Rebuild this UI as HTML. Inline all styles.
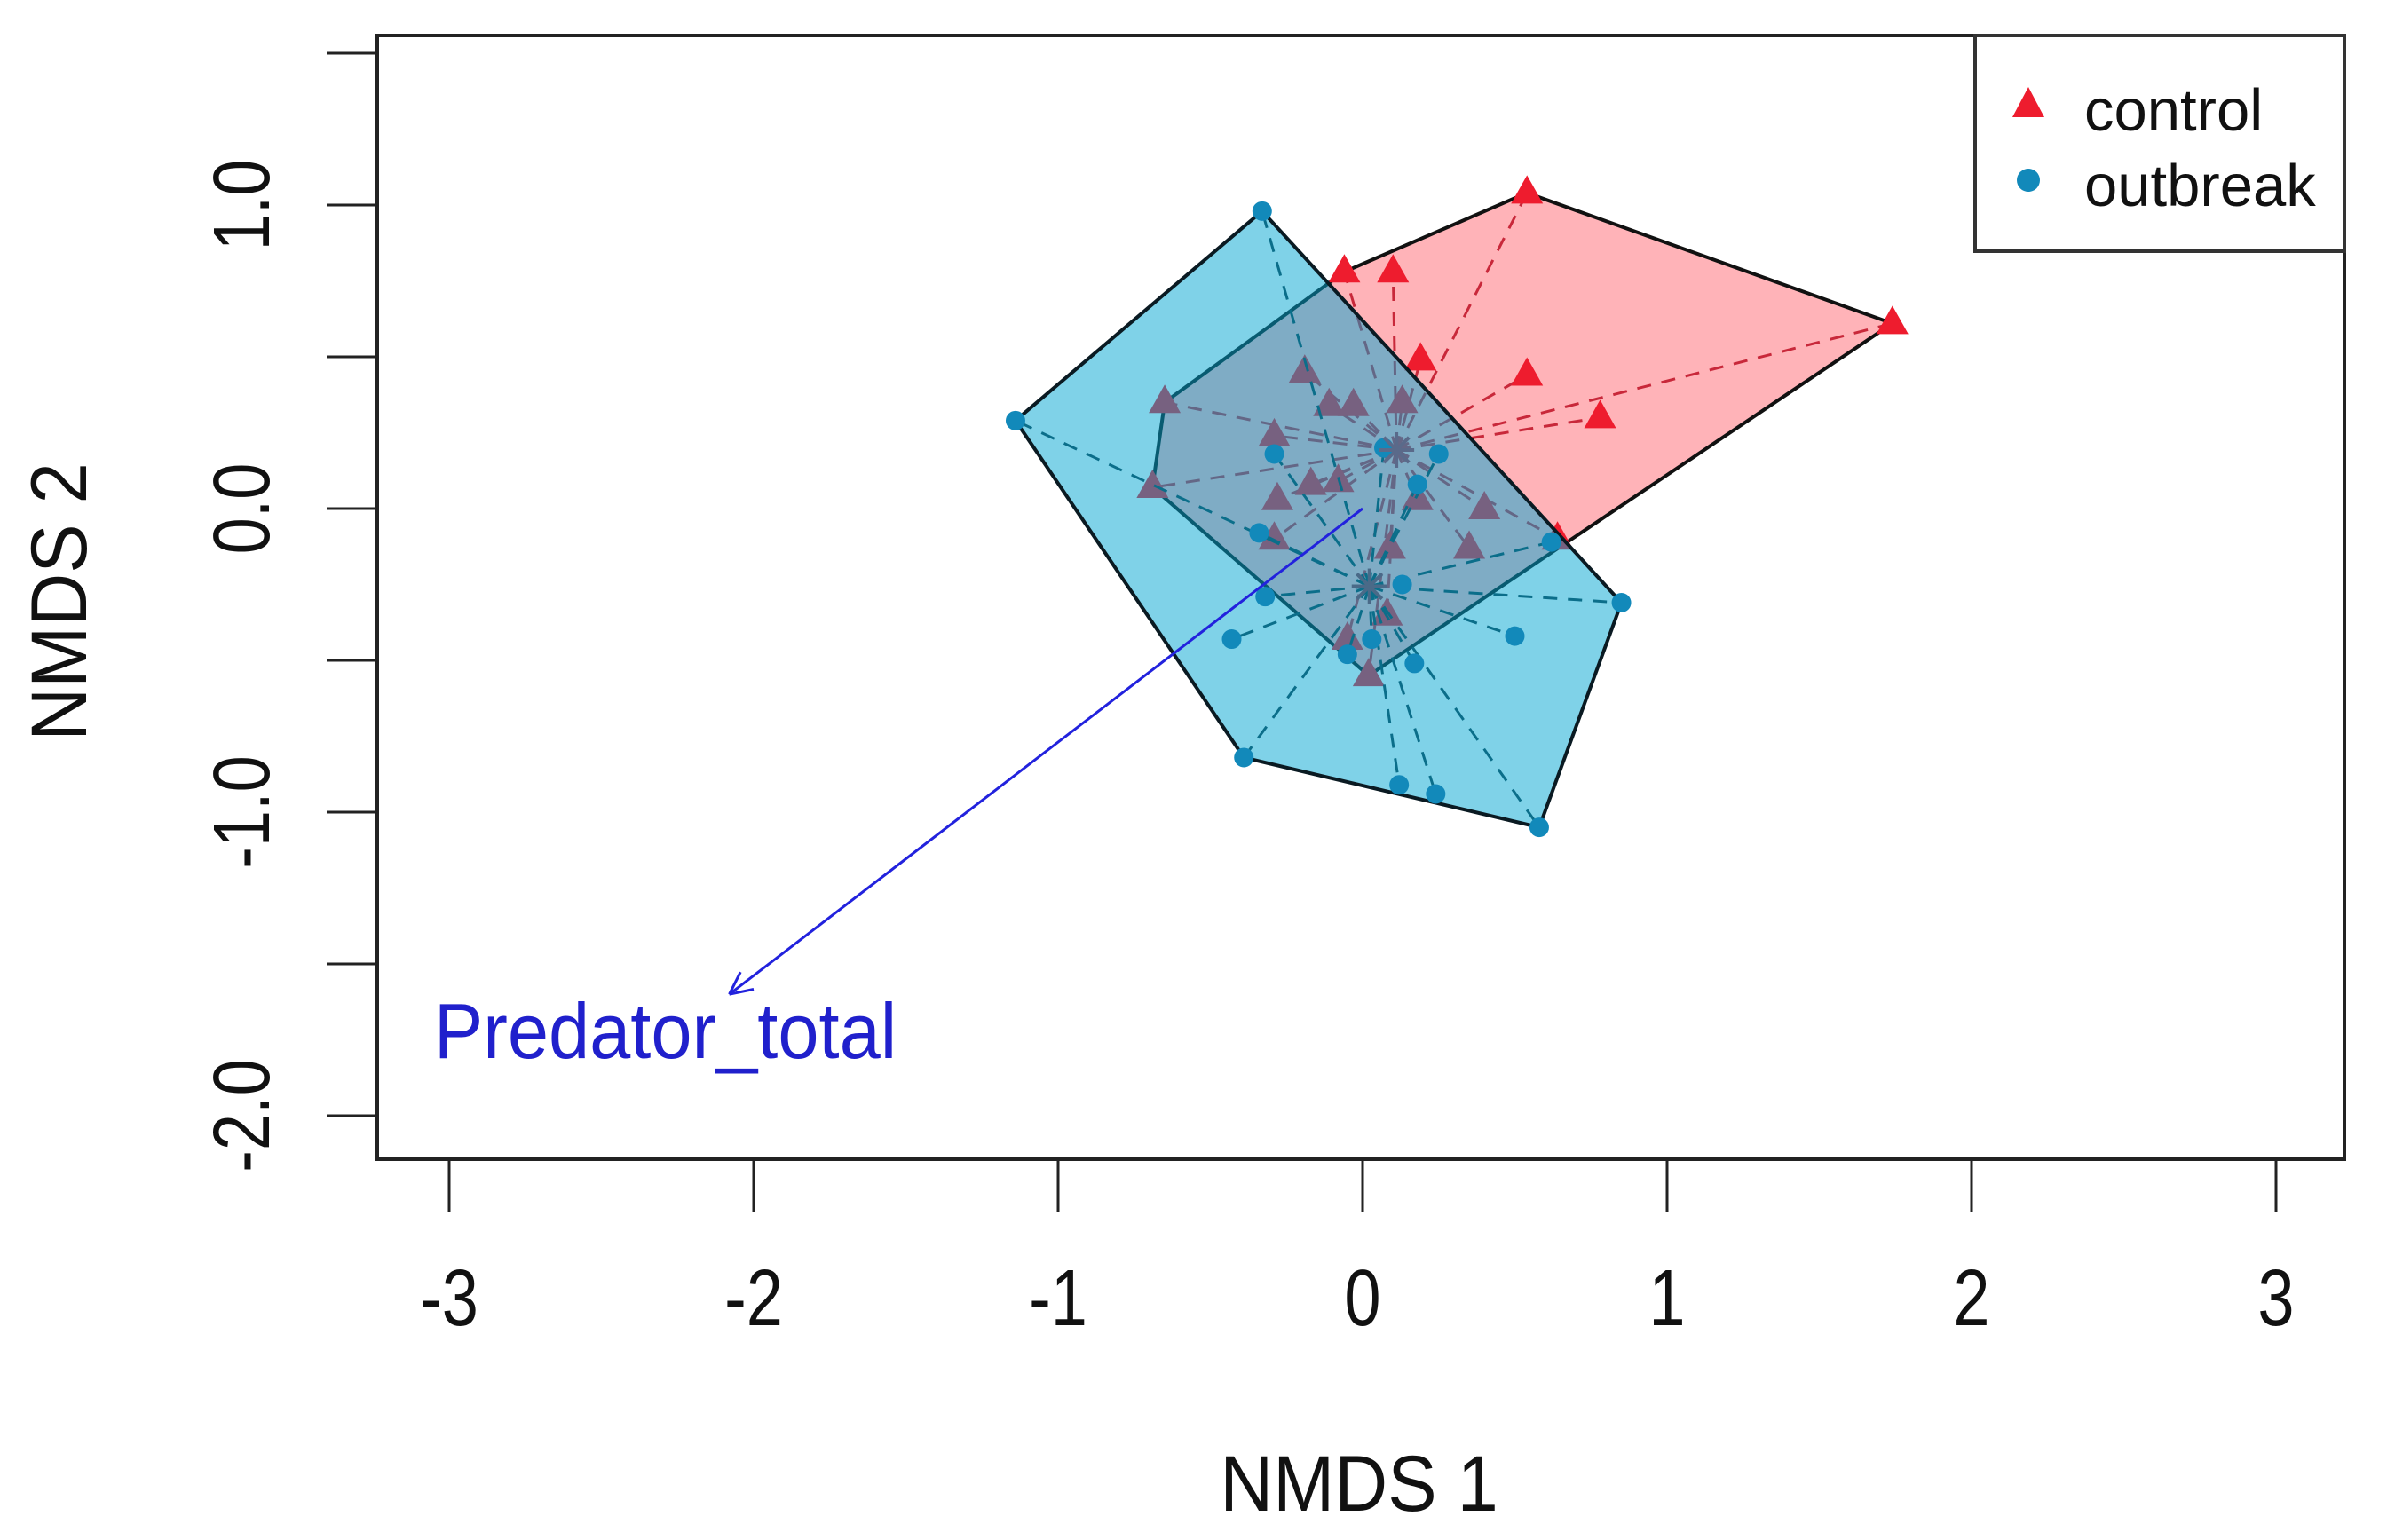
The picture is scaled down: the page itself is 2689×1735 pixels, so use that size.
<!DOCTYPE html>
<html><head><meta charset="utf-8"><style>
html,body{margin:0;padding:0;background:#fff;}
svg{display:block;font-family:"Liberation Sans",Arial,sans-serif;}
</style></head><body>
<svg id="chart" width="2689" height="1735" viewBox="0 0 2689 1735" xmlns="http://www.w3.org/2000/svg">
<g id="plot"></g>
</svg>
<script>
const controlX = [-0.06,0.10,0.54,1.74,0.54,0.78,0.19,-0.19,-0.11,-0.03,0.13,-0.65,-0.69,-0.29,-0.17,-0.08,-0.28,0.18,0.40,0.35,0.09,0.08,-0.05,0.02,-0.29,0.64];
const controlY = [0.78,0.78,1.04,0.61,0.44,0.30,0.49,0.45,0.34,0.34,0.35,0.35,0.07,0.24,0.08,0.09,0.03,0.03,0.00,-0.13,-0.13,-0.35,-0.43,-0.55,-0.10,-0.10];
const outbreakX = [-0.33,-1.14,-0.39,0.58,0.85,-0.43,-0.32,-0.05,0.17,0.50,0.12,0.24,-0.29,0.25,-0.34,0.18,0.03,0.07,0.13,0.62];
const outbreakY = [0.98,0.29,-0.82,-1.05,-0.31,-0.43,-0.29,-0.48,-0.51,-0.42,-0.91,-0.94,0.18,0.18,-0.08,0.08,-0.43,0.20,-0.25,-0.11];
const xTicks = [-3,-2,-1,0,1,2,3];
const xTickLabels = ["-3","-2","-1","0","1","2","3"];
const yTicks = [1.5,1.0,0.5,0.0,-0.5,-1.0,-1.5,-2.0];
const yTickLabels = {"1":"1.0","0":"0.0","-1":"-1.0","-2":"-2.0"};
const arrowX = [-2.08];
const arrowY = [-1.60];
const arrowLabel = "Predator_total";
const arrowLabelPos = [-3.05,-1.81];

const NS="http://www.w3.org/2000/svg";
const X = v => 1535 + v*343;
const Y = v => 573 - v*342;
const plot = document.getElementById('plot');
function mk(tag, attrs, parent){const e=document.createElementNS(NS,tag);for(const k in attrs)e.setAttribute(k,attrs[k]);(parent||plot).appendChild(e);return e;}

function hull(xs,ys){
  const p=xs.map((x,i)=>[x,ys[i]]).sort((a,b)=>a[0]-b[0]||a[1]-b[1]);
  const cr=(o,a,b)=>(a[0]-o[0])*(b[1]-o[1])-(a[1]-o[1])*(b[0]-o[0]);
  const lo=[],up=[];
  for(const q of p){while(lo.length>=2&&cr(lo[lo.length-2],lo[lo.length-1],q)<=0)lo.pop();lo.push(q);}
  for(const q of p.slice().reverse()){while(up.length>=2&&cr(up[up.length-2],up[up.length-1],q)<=0)up.pop();up.push(q);}
  return lo.slice(0,-1).concat(up.slice(0,-1));
}
const mean=a=>a.reduce((s,v)=>s+v,0)/a.length;

let el=mk('rect',{x:425,y:40,width:2216,height:1266,fill:'none',stroke:'#222','stroke-width':4});



const ch=hull(controlX,controlY);
el=mk('polygon',{points:ch.map(p=>X(p[0])+','+Y(p[1])).join(' '),fill:'#ffb3b8',stroke:'#111','stroke-width':4});


const cx=mean(controlX), cy=mean(controlY);
controlX.forEach((x,i)=>{
  const l=mk('line',{x1:X(cx),y1:Y(cy),x2:X(x),y2:Y(controlY[i]),stroke:'#c8283a','stroke-width':3,'stroke-dasharray':'16,12'});
  
  
});
controlX.forEach((x,i)=>{
  const px=X(x),py=Y(controlY[i]);
  const t=mk('polygon',{points:`${px},${py-20} ${px-18},${py+12} ${px+18},${py+12}`,fill:'#ee1c2e'});
  
  
});

const oh=hull(outbreakX,outbreakY);
el=mk('polygon',{points:oh.map(p=>X(p[0])+','+Y(p[1])).join(' '),fill:'rgba(0,165,210,0.5)',stroke:'#0a1a22','stroke-width':4});


const ox=mean(outbreakX), oy=mean(outbreakY);
outbreakX.forEach((x,i)=>{
  const l=mk('line',{x1:X(ox),y1:Y(oy),x2:X(x),y2:Y(outbreakY[i]),stroke:'#0b6e8a','stroke-width':3,'stroke-dasharray':'16,12'});
  
  
});
outbreakX.forEach((x,i)=>{
  const c=mk('circle',{cx:X(x),cy:Y(outbreakY[i]),r:11,fill:'#1289ba'});
  
  
});
[[cx,cy,'#5a6a8a'],[ox,oy,'#4a6a88']].forEach(([a,b,col])=>{
  const g=mk('g',{stroke:col,'stroke-width':4});
  
  
  for(let k=0;k<4;k++){const an=k*Math.PI/4;mk('line',{x1:X(a)-20*Math.cos(an),y1:Y(b)-20*Math.sin(an),x2:X(a)+20*Math.cos(an),y2:Y(b)+20*Math.sin(an)},g);}
});

el=mk('line',{x1:X(0),y1:Y(0),x2:X(arrowX[0]),y2:Y(arrowY[0]),stroke:'#2222dd','stroke-width':3});


const ang=Math.atan2(Y(arrowY[0])-Y(0),X(arrowX[0])-X(0));
const hx=X(arrowX[0]),hy=Y(arrowY[0]);
[0.45,-0.45].forEach(d=>{
  const h=mk('line',{x1:hx,y1:hy,x2:hx-28*Math.cos(ang+d),y2:hy-28*Math.sin(ang+d),stroke:'#2222dd','stroke-width':3});
  
  
});
el=mk('text',{x:0,y:0,'font-size':83,fill:'#2020cc',transform:`translate(${X(arrowLabelPos[0])},${Y(arrowLabelPos[1])}) scale(1,1.06)`});
el.textContent=arrowLabel;



xTicks.forEach((t,i)=>{
  const l=mk('line',{x1:X(t),y1:1306,x2:X(t),y2:1366,stroke:'#222','stroke-width':3});
  
  
  const tx=mk('text',{x:0,y:0,'font-size':74,'text-anchor':'middle',fill:'#111',transform:`translate(${X(t)},1493) scale(1,1.22)`});
  tx.textContent=xTickLabels[i];
  
  
});
yTicks.forEach(t=>{
  const l=mk('line',{x1:368,y1:Y(t),x2:425,y2:Y(t),stroke:'#222','stroke-width':3});
  
  
  const key=String(t);
  if(yTickLabels[key]!==undefined){
    const tx=mk('text',{x:0,y:0,'font-size':74,'text-anchor':'middle',fill:'#111',transform:`translate(303,${Y(t)}) rotate(-90) scale(1,1.22)`});
    tx.textContent=yTickLabels[key];
    
    
  }
});
el=mk('text',{x:0,y:0,'font-size':83,'text-anchor':'middle',fill:'#111',transform:'translate(1531,1702) scale(1,1.07)'});
el.textContent='NMDS 1';


el=mk('text',{x:0,y:0,'font-size':83,'text-anchor':'middle',fill:'#111',transform:'translate(97,678) rotate(-90) scale(1,1.07)'});
el.textContent='NMDS 2';



const lg=mk('g',{});


el=mk('rect',{x:2225,y:40,width:416,height:243,fill:'#fff',stroke:'#333','stroke-width':4},lg);


el=mk('polygon',{points:'2285,98 2267,132 2303,132',fill:'#ee1c2e'},lg);


el=mk('text',{x:2348,y:147,'font-size':67,fill:'#111'},lg);
el.textContent='control';


el=mk('circle',{cx:2285,cy:203,r:13,fill:'#1289ba'},lg);


el=mk('text',{x:2348,y:232,'font-size':67,fill:'#111'},lg);
el.textContent='outbreak';


</script>
</body></html>
